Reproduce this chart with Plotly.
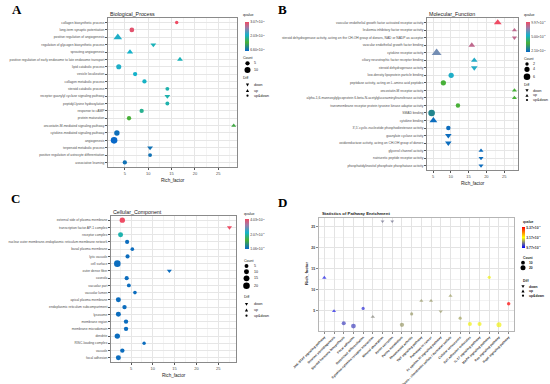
import math
import plotly.graph_objects as go

W, H = 550, 384

# ---------------- Panel A : Biological_Process ----------------
bp_terms = ["collagen biosynthetic process", "long-term synaptic potentiation",
            "positive regulation of angiogenesis", "regulation of glycogen biosynthetic process",
            "sprouting angiogenesis", "positive regulation of early endosome to late endosome transport",
            "lipid catabolic process", "vesicle localization", "collagen metabolic process",
            "steroid catabolic process", "receptor guanylyl cyclase signaling pathway",
            "peptidyl-lysine hydroxylation", "response to cAMP", "protein maturation",
            "oncostatin-M-mediated signaling pathway", "cytokine-mediated signaling pathway",
            "angiogenesis", "terpenoid metabolic process",
            "positive regulation of astrocyte differentiation", "associative learning"]
bp_rich = [16.1, 6.5, 3.5, 11.1, 6.1, 16.8, 3.7, 7.2, 9.2, 14.1, 14.1, 14.1, 8.6, 5.9, 28.3, 3.3, 2.7, 10.4, 10.4, 5.0]
bp_qscale = [1.0, 0.97, 0.57, 0.52, 0.55, 0.52, 0.57, 0.55, 0.54, 0.5, 0.5, 0.5, 0.45, 0.3, 0.27, 0.03, 0.0, 0.04, 0.04, 0.04]
bp_count = [3, 6, 9, 4, 5, 4, 7, 5, 5, 4, 4, 4, 5, 5, 3, 8, 12, 4, 4, 5]
bp_diff = ["up&down", "up&down", "up", "down", "up", "up", "up&down", "up&down", "up&down", "up&down",
           "down", "up&down", "up&down", "up&down", "up", "up&down", "up&down", "down", "up&down", "up&down"]
bp_q_ticks = ["6.60×10<sup>-1</sup>", "2.03×10<sup>-1</sup>", "3.07×10<sup>-1</sup>"]
bp_count_legend = [5, 10]

# ---------------- Panel B : Molecular_Function ----------------
mf_terms = ["vascular endothelial growth factor activated receptor activity",
            "leukemia inhibitory factor receptor activity",
            "steroid dehydrogenase activity, acting on the CH-OH group of donors, NAD or NADP as acceptor",
            "vascular endothelial growth factor binding", "cytokine receptor activity",
            "ciliary neurotrophic factor receptor binding", "steroid dehydrogenase activity",
            "low-density lipoprotein particle binding",
            "peptidase activity, acting on L-amino acid peptides", "oncostatin-M receptor activity",
            "alpha-1,6-mannosylglycoprotein 6-beta-N-acetylglucosaminyltransferase activity",
            "transmembrane receptor protein tyrosine kinase adaptor activity", "SMAD binding",
            "cytokine binding", "3',5'-cyclic-nucleotide phosphodiesterase activity",
            "guanylate cyclase activity", "oxidoreductase activity, acting on CH-OH group of donors",
            "glycerol channel activity", "natriuretic peptide receptor activity",
            "phosphatidylinositol phosphate phosphatase activity"]
mf_rich = [23.2, 27.9, 27.9, 15.9, 6.0, 16.6, 16.6, 10.1, 7.9, 27.9, 27.9, 12.0, 4.6, 5.1, 9.3, 9.3, 9.3, 18.5, 18.5, 18.5]
mf_qscale = [1.0, 0.88, 0.88, 0.88, 0.72, 0.58, 0.58, 0.57, 0.3, 0.3, 0.3, 0.3, 0.12, 0.02, 0.02, 0.02, 0.02, 0.02, 0.02, 0.02]
mf_count = [4, 2, 2, 3, 6, 3, 3, 4, 4, 2, 2, 3, 6, 4, 3, 3, 3, 2, 2, 2]
mf_diff = ["up", "up", "down", "up", "up", "up", "down", "up&down", "up&down", "up", "up", "up&down",
           "up&down", "up", "up&down", "down", "down", "up", "down", "down"]
mf_q_ticks = ["2.10×10<sup>-1</sup>", "5.00×10<sup>-1</sup>", "9.97×10<sup>-1</sup>"]
mf_count_legend = [2, 4, 6]

# ---------------- Panel C : Cellular_Component ----------------
cc_terms = ["external side of plasma membrane", "transcription factor AP-1 complex", "receptor complex",
            "nuclear outer membrane-endoplasmic reticulum membrane network", "basal plasma membrane",
            "lytic vacuole", "cell surface", "outer dense fiber", "caveola", "vacuolar part",
            "vacuolar lumen", "apical plasma membrane", "endoplasmic reticulum subcompartment",
            "lysosome", "membrane region", "membrane microdomain", "dendrite", "RISC-loading complex",
            "vacuole", "focal adhesion"]
cc_rich = [3.0, 27.6, 2.6, 4.1, 5.3, 4.2, 1.85, 13.8, 4.0, 4.5, 5.9, 2.1, 3.5, 2.1, 3.85, 3.85, 1.85, 8.0, 3.0, 2.1]
cc_qscale = [1.0, 1.0, 0.5, 0.02, 0.02, 0.02, 0.02, 0.02, 0.02, 0.02, 0.02, 0.02, 0.02, 0.02, 0.02, 0.02, 0.02, 0.02, 0.02, 0.02]
cc_count = [12, 3, 10, 6, 4, 6, 20, 3, 6, 5, 4, 10, 7, 10, 7, 7, 12, 3, 7, 10]
cc_diff = ["up&down", "down", "up&down", "up&down", "up&down", "up&down", "up&down", "down", "up&down", "up&down",
           "up&down", "up&down", "up&down", "up&down", "up&down", "up&down", "up&down", "up&down", "up&down", "up&down"]
cc_q_ticks = ["1.06×10<sup>-1</sup>", "2.07×10<sup>-1</sup>", "4.03×10<sup>-1</sup>"]
cc_count_legend = [5, 10, 15, 20]

# ---------------- Panel D : KEGG pathways ----------------
kg_terms = ["JAK-STAT signaling pathway", "Ovarian steroidogenesis", "Steroid hormone biosynthesis",
            "Focal adhesion", "Osteoclast differentiation", "Cytokine-cytokine receptor interaction",
            "Mineral absorption", "Renin secretion", "Purine metabolism", "Rheumatoid arthritis",
            "TNF signaling pathway", "Pathways in cancer", "Fc epsilon RI signaling pathway",
            "Glycosaminoglycan biosynthesis - chondroitin sulfate / dermatan sulfate",
            "Cellular senescence", "Cell adhesion molecules", "IL-17 signaling pathway",
            "MAPK signaling pathway", "Ras signaling pathway", "Rap1 signaling pathway"]
kg_rich = [12.9, 5.0, 2.1, 1.4, 5.6, 3.6, 26.3, 26.3, 1.7, 4.3, 7.4, 7.4, 4.9, 8.6, 3.3, 1.9, 1.9, 13.0, 1.7, 6.7]
kg_qscale = [0.05, 0.05, 0.13, 0.13, 0.08, 0.26, 0.22, 0.22, 0.3, 0.3, 0.3, 0.3, 0.3, 0.31, 0.32, 0.47, 0.47, 0.47, 0.47, 1.0]
kg_count = [5, 4, 12, 18, 6, 5, 3, 3, 14, 6, 4, 4, 4, 4, 6, 12, 12, 6, 20, 8]
kg_diff = ["up", "up", "up&down", "up&down", "up&down", "up", "down", "down", "up&down", "up&down",
           "up", "up", "down", "up", "up&down", "up&down", "up&down", "up&down", "up&down", "up&down"]
kg_q_ticks = ["9.77×10<sup>-1</sup>", "3.17×10<sup>-1</sup>", "5.37×10<sup>-1</sup>"]
kg_count_legend = [10, 20]

diff_levels = ["down", "up", "up&down"]

# ---------------- helpers ----------------
SYM = {"down": "triangle-down", "up": "triangle-up", "up&down": "circle"}
CS_GO = [[0, "#0868C8"], [0.3, "#48B038"], [0.55, "#14B2CA"], [0.8, "#9F7BA8"], [1, "#EE4C64"]]
CS_KG = [[0, "#0000FF"], [0.5, "#FFFF00"], [1, "#FF0000"]]
FONT = "Liberation Sans"


def px_size(c, cmin, cmax, smin=3.4, smax=6.6):
    return math.sqrt(smin ** 2 + (smax ** 2 - smin ** 2) * (c - cmin) / (cmax - cmin))


def marker_sizes(counts, diffs, cmin, cmax, smin=3.4, smax=6.6):
    out = []
    for c, d in zip(counts, diffs):
        s = px_size(c, cmin, cmax, smin, smax)
        out.append(s * 1.3 if d != "up&down" else s)
    return out


def dx(a, b):
    return [a / W, b / W]


def dy(top, bot):
    return [1 - bot / H, 1 - top / H]


def px(x):
    return x / W


def py(y):
    return 1 - y / H


fig = go.Figure()
shapes = []
ann = []


def add_text(x, y, text, size=4, bold=False, anchor="left", color="#222", family=FONT, angle=0, yanchor="middle"):
    ann.append(dict(x=px(x), y=py(y), xref="paper", yref="paper", text=text, showarrow=False,
                    xanchor=anchor, yanchor=yanchor, textangle=angle,
                    font=dict(size=size, color=color, family=family,
                              weight="bold" if bold else "normal")))


def circle_key(cx, cy, d, color="black"):
    r = d / 2
    shapes.append(dict(type="circle", xref="paper", yref="paper", x0=px(cx - r), x1=px(cx + r),
                       y0=py(cy + r), y1=py(cy - r), fillcolor=color, line=dict(width=0)))


def tri_key(cx, cy, d, up, color="black"):
    h = d * 0.87
    if up:
        pts = [(cx - d / 2, cy + h / 2), (cx + d / 2, cy + h / 2), (cx, cy - h / 2)]
    else:
        pts = [(cx - d / 2, cy - h / 2), (cx + d / 2, cy - h / 2), (cx, cy + h / 2)]
    path = "M " + " L ".join(f"{px(a):.5f},{py(b):.5f}" for a, b in pts) + " Z"
    shapes.append(dict(type="path", xref="paper", yref="paper", path=path, fillcolor=color, line=dict(width=0)))


def legend_block(x0, qtitle_y, count_title_y, count_ys, count_vals, cmin, cmax, diff_title_y, diff_ys,
                 key_x, text_x, bold=False, fs=3.6, smin=3.4, smax=6.6):
    add_text(x0, qtitle_y, "qvalue", size=fs, bold=bold)
    add_text(x0, count_title_y, "Count", size=fs, bold=bold)
    for yv, cv in zip(count_ys, count_vals):
        circle_key(key_x, yv, px_size(cv, cmin, cmax, smin, smax))
        add_text(text_x, yv, str(cv), size=fs, bold=bold)
    add_text(x0, diff_title_y, "Diff", size=fs, bold=bold)
    for yv, lv in zip(diff_ys, diff_levels):
        if lv == "up&down":
            circle_key(key_x, yv, 2.2)
        else:
            tri_key(key_x, yv, 3.2, lv == "up")
        add_text(text_x, yv, lv, size=fs, bold=bold)


def colorbar(x, top, length, ticks, bold=False, thick=4):
    return dict(x=px(x), xanchor="left", y=py(top), yanchor="top", lenmode="pixels", len=length,
                thicknessmode="pixels", thickness=thick, outlinewidth=0, xpad=0, ypad=0,
                tickmode="array", tickvals=[0.02, 0.5, 0.98], ticktext=ticks, ticks="",
                tickfont=dict(size=3.4, color="#333", family=FONT, weight="bold" if bold else "normal"))


# ---------------- GO panels ----------------
go_panels = [
    (bp_terms, bp_rich, bp_qscale, bp_count, bp_diff, "", dx(108, 237), dy(18.3, 166.7), [1.4, 29.0], "coloraxis"),
    (mf_terms, mf_rich, mf_qscale, mf_count, mf_diff, "2", dx(427, 518), dy(18.3, 170), [3.3, 28.9], "coloraxis2"),
    (cc_terms, cc_rich, cc_qscale, cc_count, cc_diff, "3", dx(111, 236), dy(216, 362), [0.4, 29.1], "coloraxis3"),
]

layout_axes = {}
for terms, rich, q, cnt, diff, sfx, xd, yd, xr, cax in go_panels:
    fig.add_trace(go.Scatter(
        x=rich, y=terms, mode="markers", xaxis="x" + sfx, yaxis="y" + sfx, showlegend=False,
        hoverinfo="skip",
        marker=dict(color=q, coloraxis=cax, size=marker_sizes(cnt, diff, min(cnt), max(cnt)),
                    symbol=[SYM[d] for d in diff], line=dict(width=0), opacity=1)))
    n = len(terms)
    layout_axes["xaxis" + sfx] = dict(
        domain=xd, anchor="y" + sfx, range=xr, tick0=0, dtick=5, showgrid=True, gridcolor="#E6E6E6",
        gridwidth=0.6, minor=dict(dtick=2.5, showgrid=True, gridcolor="#F4F4F4", gridwidth=0.4),
        showline=True, mirror=True, linecolor="#8A8A8A", linewidth=1, ticks="outside", ticklen=2,
        tickcolor="#555", tickwidth=0.6, zeroline=False, automargin=False,
        tickfont=dict(size=4, color="#4D4D4D", family=FONT))
    layout_axes["yaxis" + sfx] = dict(
        domain=yd, anchor="x" + sfx, type="category", categoryorder="array", categoryarray=terms,
        range=[n - 0.42, -0.58], showgrid=True, gridcolor="#E6E6E6", gridwidth=0.6,
        showline=True, mirror=True, linecolor="#8A8A8A", linewidth=1, ticks="outside", ticklen=2,
        tickcolor="#555", tickwidth=0.6, zeroline=False, automargin=False,
        tickfont=dict(size=3.3, color="#4D4D4D", family=FONT))

# ---------------- KEGG panel ----------------
fig.add_trace(go.Scatter(
    x=kg_terms, y=kg_rich, mode="markers", xaxis="x4", yaxis="y4", showlegend=False, hoverinfo="skip",
    marker=dict(color=kg_qscale, coloraxis="coloraxis4",
                size=marker_sizes(kg_count, kg_diff, min(kg_count), max(kg_count), 2.6, 5.0),
                symbol=[SYM[d] for d in kg_diff], line=dict(width=0))))
layout_axes["xaxis4"] = dict(
    domain=dx(319, 514), anchor="y4", type="category", categoryorder="array", categoryarray=kg_terms,
    range=[-0.55, len(kg_terms) - 0.45], showgrid=True, gridcolor="#E3E3E3", gridwidth=0.6,
    showline=True, mirror=True, linecolor="#B5B5B5", linewidth=1.4, ticks="outside", ticklen=2,
    tickcolor="#888", tickangle=-45, zeroline=False, automargin=False,
    tickfont=dict(size=3.2, color="#333", family=FONT, weight="bold"))
layout_axes["yaxis4"] = dict(
    domain=dy(218, 331), anchor="x4", range=[0.24, 27.1], tick0=0, dtick=5, showgrid=True,
    gridcolor="#E3E3E3", gridwidth=0.6, minor=dict(dtick=2.5, showgrid=True, gridcolor="#F2F2F2"),
    showline=True, mirror=True, linecolor="#B5B5B5", linewidth=1.4, ticks="outside", ticklen=2,
    tickcolor="#888", zeroline=False, automargin=False,
    tickfont=dict(size=3.4, color="#333", family=FONT, weight="bold"))

# ---------------- titles and labels ----------------
SERIF = "Liberation Serif"
add_text(10, 10, "A", size=13, bold=True, family=SERIF, color="black")
add_text(276, 10, "B", size=13, bold=True, family=SERIF, color="black")
add_text(9, 198, "C", size=13, bold=True, family=SERIF, color="black")
add_text(276, 202, "D", size=13, bold=True, family=SERIF, color="black")

add_text(108, 14, "Biological_Process", size=5.3, color="#222")
add_text(427, 14, "Molecular_Function", size=5.3, color="#222")
add_text(111, 211.5, "Cellular_Component", size=5.3, color="#222")
add_text(320, 213, "Statistics of Pathway Enrichment", size=4.3, bold=True, color="#222")

add_text(172.5, 180, "Rich_factor", size=4.6, anchor="center", color="#222")
add_text(472.5, 183, "Rich_factor", size=4.6, anchor="center", color="#222")
add_text(173.5, 375, "Rich_factor", size=4.6, anchor="center", color="#222")
add_text(306, 274, "Rich_factor", size=4.2, bold=True, anchor="center", angle=-90, color="#222")

# ---------------- legends ----------------
legend_block(241, 15, 57.5, [63.3, 70], bp_count_legend, min(bp_count), max(bp_count), 78.3, [85, 90.5, 95.7],
             247.5, 251.5)
legend_block(522, 15, 59.3, [64, 69.3, 76.7], mf_count_legend, min(mf_count), max(mf_count), 85,
             [90.7, 95.3, 100], 527, 530.5)
legend_block(241.5, 214, 260.7, [266, 271.7, 278.3, 285.7], cc_count_legend, min(cc_count), max(cc_count),
             297.3, [304.3, 310, 315.7], 246.5, 251.5)
legend_block(520.5, 221.7, 258, [262.7, 267.7], kg_count_legend, min(kg_count), max(kg_count), 280.7,
             [286.7, 291, 295.7], 523, 527, bold=True, fs=3.3, smin=2.6, smax=5.0)

fig.update_layout(
    width=W, height=H, autosize=False, margin=dict(l=0, r=0, t=0, b=0, autoexpand=False),
    paper_bgcolor="white", plot_bgcolor="white", showlegend=False,
    font=dict(family=FONT),
    coloraxis=dict(colorscale=CS_GO, cmin=0, cmax=1, colorbar=colorbar(244.5, 21.7, 29, bp_q_ticks)),
    coloraxis2=dict(colorscale=CS_GO, cmin=0, cmax=1, colorbar=colorbar(526, 21.7, 30, mf_q_ticks)),
    coloraxis3=dict(colorscale=CS_GO, cmin=0, cmax=1, colorbar=colorbar(245, 219.3, 30, cc_q_ticks)),
    coloraxis4=dict(colorscale=CS_KG, cmin=0, cmax=1, colorbar=colorbar(521.5, 227, 21, kg_q_ticks, bold=True, thick=3)),
    shapes=shapes, annotations=ann,
    **layout_axes)

fig.write_html("out.html", config={"displayModeBar": False},
               post_script="document.body.style.margin='0';document.body.style.overflow='hidden';")
